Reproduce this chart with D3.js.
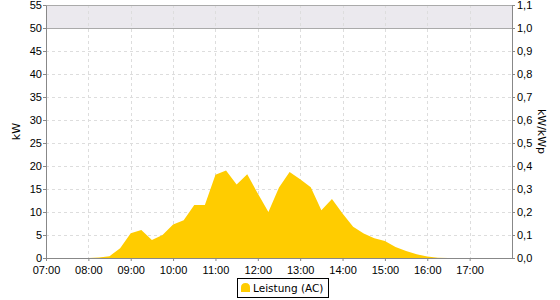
<!DOCTYPE html>
<html>
<head>
<meta charset="utf-8">
<script src="https://cdn.jsdelivr.net/npm/d3@7"></script>
<style>
  body { margin: 0; background: #fff; }
  svg { font-family: "DejaVu Sans", sans-serif; }
  .axis text { font-size: 11px; fill: #000; }
  .axis path, .axis line { stroke: #888; }
  .grid line { stroke: #ddd; stroke-dasharray: 3,3; }
</style>
</head>
<body>
<svg id="chart" width="560" height="300"></svg>
<script>
// 15-minute samples, 07:00 .. 18:00
const times = [
  '07:00','07:15','07:30','07:45','08:00','08:15','08:30','08:45',
  '09:00','09:15','09:30','09:45','10:00','10:15','10:30','10:45',
  '11:00','11:15','11:30','11:45','12:00','12:15','12:30','12:45',
  '13:00','13:15','13:30','13:45','14:00','14:15','14:30','14:45',
  '15:00','15:15','15:30','15:45','16:00','16:15','16:30'
];
const leistung = [
  0, 0, 0, 0, 0, 0.1, 0.4, 2.1,
  5.4, 6.1, 3.9, 5.0, 7.3, 8.2, 11.5, 11.5,
  18.1, 19.0, 16.0, 18.2, 14.0, 10.0, 15.3, 18.7,
  17.1, 15.4, 10.4, 12.8, 9.7, 6.8, 5.3, 4.3,
  3.7, 2.4, 1.5, 0.8, 0.3, 0.05, 0
];
const kwTicks = [0, 5, 10, 15, 20, 25, 30, 35, 40, 45, 50, 55];
const kwpTicks = [0, 0.1, 0.2, 0.3, 0.4, 0.5, 0.6, 0.7, 0.8, 0.9, 1.0, 1.1];
const hourTicks = ['07:00','08:00','09:00','10:00','11:00','12:00','13:00','14:00','15:00','16:00','17:00'];
const seriesName = 'Leistung (AC)';

const MARGIN = { top: 5, right: 48, bottom: 42, left: 46 };
const W = 560 - MARGIN.left - MARGIN.right;
const H = 300 - MARGIN.top - MARGIN.bottom;

const parse = d3.timeParse('%H:%M');
const data = times.map((t, i) => ({ t: parse(t), v: leistung[i] }));

const svg = d3.select('#chart');
const g = svg.append('g').attr('transform', 'translate(' + MARGIN.left + ',' + MARGIN.top + ')');

const x = d3.scaleTime().domain([parse('07:00'), parse('18:00')]).range([0, W]);
const y = d3.scaleLinear().domain([0, 55]).range([H, 0]);
const y2 = d3.scaleLinear().domain([0, 1.1]).range([H, 0]);

// band above rated power
g.append('rect')
  .attr('x', 0).attr('y', y(55))
  .attr('width', W).attr('height', y(50) - y(55))
  .attr('fill', '#ebe9ee');

// grid
const grid = g.append('g').attr('class', 'grid');
grid.selectAll('line.h').data(kwTicks.filter(d => d > 0 && d < 55)).enter()
  .append('line').attr('class', 'h')
  .attr('x1', 0).attr('x2', W)
  .attr('y1', d => Math.round(y(d)) + 0.5).attr('y2', d => Math.round(y(d)) + 0.5);
grid.selectAll('line.v').data(hourTicks.slice(1).map(parse)).enter()
  .append('line').attr('class', 'v')
  .attr('y1', 0).attr('y2', H)
  .attr('x1', d => Math.round(x(d)) + 0.5).attr('x2', d => Math.round(x(d)) + 0.5);

g.append('line')
  .attr('x1', 0).attr('x2', W)
  .attr('y1', Math.round(y(50)) + 0.5).attr('y2', Math.round(y(50)) + 0.5)
  .attr('stroke', '#aaa');
g.append('line')
  .attr('x1', 0).attr('x2', W)
  .attr('y1', 0.5).attr('y2', 0.5)
  .attr('stroke', '#aaa');

// area
const area = d3.area()
  .x(d => x(d.t))
  .y0(y(0))
  .y1(d => y(d.v));
g.append('path').datum(data)
  .attr('d', area)
  .attr('fill', '#ffcc00');

// axes
const comma = v => d3.format('.1f')(v).replace('.', ',');

g.append('g').attr('class', 'axis')
  .attr('transform', 'translate(0,' + H + ')')
  .call(d3.axisBottom(x).tickValues(hourTicks.map(parse)).tickFormat(d3.timeFormat('%H:%M')).tickSize(3).tickSizeOuter(0))
  .call(a => a.selectAll('text').attr('dy', '0.95em'));

g.append('g').attr('class', 'axis')
  .call(d3.axisLeft(y).tickValues(kwTicks).tickSize(3).tickSizeOuter(0))
  .call(a => a.selectAll('text').attr('x', -4));

g.append('g').attr('class', 'axis')
  .attr('transform', 'translate(' + W + ',0)')
  .call(d3.axisRight(y2).tickValues(kwpTicks).tickFormat(comma).tickSize(3).tickSizeOuter(0))
  .call(a => a.selectAll('text').attr('x', 5));

// axis titles
svg.append('text')
  .attr('transform', 'translate(20,' + (MARGIN.top + H / 2) + ') rotate(-90)')
  .attr('text-anchor', 'middle')
  .attr('font-size', 11)
  .text('kW');
svg.append('text')
  .attr('transform', 'translate(538,' + (MARGIN.top + H / 2) + ') rotate(90)')
  .attr('text-anchor', 'middle')
  .attr('font-size', 11)
  .text('kW/kWp');

// legend
const leg = svg.append('g').attr('transform', 'translate(237,278)');
const legText = leg.append('text')
  .attr('x', 16).attr('y', 14)
  .attr('font-size', 10.5)
  .text(seriesName);
const tw = legText.node().getComputedTextLength();
leg.insert('rect', 'text')
  .attr('x', 0.5).attr('y', 0.5)
  .attr('width', Math.ceil(16 + tw + 4)).attr('height', 19)
  .attr('fill', '#fff').attr('stroke', '#000');
leg.append('path')
  .attr('d', 'M4,14 L4,9.5 Q4,5 8.5,5 Q13,5 13,9.5 L13,14 Z')
  .attr('fill', '#ffcc00');
</script>
</body>
</html>
